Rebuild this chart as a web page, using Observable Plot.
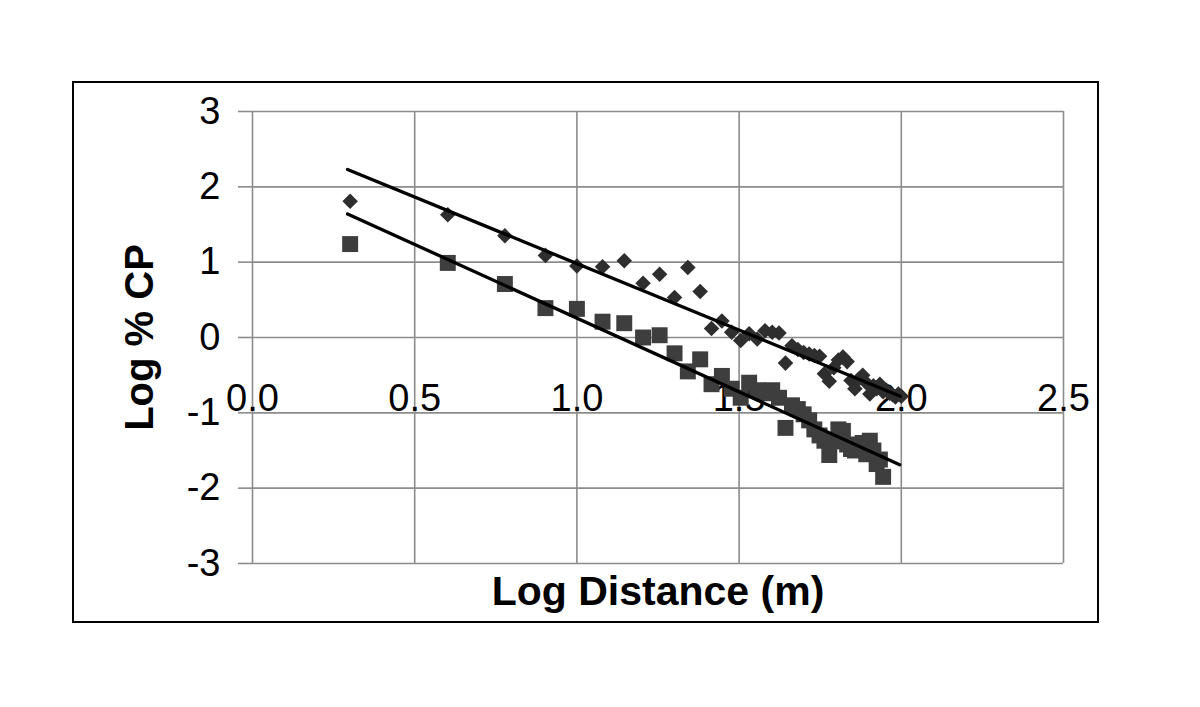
<!DOCTYPE html>
<html>
<head>
<meta charset="utf-8">
<script src="https://cdn.jsdelivr.net/npm/d3@7"></script>
<script src="https://cdn.jsdelivr.net/npm/@observablehq/plot@0.6"></script>
<style>
  html, body { margin: 0; padding: 0; background: #fff; }
  #wrap { position: relative; width: 1200px; height: 707px; overflow: hidden; }
  #frame { position: absolute; left: 72px; top: 81px; width: 1027px; height: 542px;
           border: 2px solid #000; box-sizing: border-box; pointer-events: none; }
</style>
</head>
<body>
<div id="wrap"><div id="frame"></div></div>
<script>
// ---- data ----
const xTicks = [0, 0.5, 1, 1.5, 2, 2.5];
const xTickLabels = ["0.0", "0.5", "1.0", "1.5", "2.0", "2.5"];
const yTicks = [-3, -2, -1, 0, 1, 2, 3];
const yTickLabels = ["-3", "-2", "-1", "0", "1", "2", "3"];
const xLabelRow = -1; // x tick labels sit on the -1 gridline

// series 1 (diamonds): log distance, log %CP
const diamondX = [0.301, 0.602, 0.778, 0.903, 1.000, 1.079, 1.146, 1.204, 1.255, 1.301,
  1.342, 1.380, 1.415, 1.447, 1.477, 1.505, 1.531, 1.556, 1.580, 1.602,
  1.623, 1.643, 1.663, 1.681, 1.699, 1.716, 1.732, 1.748, 1.763, 1.778,
  1.792, 1.806, 1.820, 1.833, 1.845, 1.857, 1.869, 1.881, 1.892, 1.903,
  1.914, 1.924, 1.934, 1.944, 1.954, 1.964, 1.973, 1.982, 1.991, 2.000];
const diamondY = [1.81, 1.63, 1.35, 1.09, 0.95, 0.94, 1.02, 0.72, 0.84, 0.53,
  0.93, 0.61, 0.12, 0.22, 0.07, -0.04, 0.05, -0.02, 0.09, 0.07,
  0.06, -0.34, -0.11, -0.16, -0.20, -0.22, -0.24, -0.25, -0.48, -0.58,
  -0.40, -0.30, -0.26, -0.32, -0.57, -0.68, -0.55, -0.50, -0.60, -0.75,
  -0.64, -0.68, -0.62, -0.72, -0.70, -0.74, -0.76, -0.79, -0.75, -0.78];

// series 2 (squares)
const squareX = [0.301, 0.602, 0.778, 0.903, 1.000, 1.079, 1.146, 1.204, 1.255, 1.301,
  1.342, 1.380, 1.415, 1.447, 1.477, 1.505, 1.531, 1.556, 1.580, 1.602,
  1.623, 1.643, 1.663, 1.681, 1.699, 1.716, 1.732, 1.748, 1.763, 1.778,
  1.792, 1.806, 1.820, 1.833, 1.845, 1.857, 1.869, 1.881, 1.892, 1.903,
  1.914, 1.924, 1.934, 1.944];
const squareY = [1.24, 0.99, 0.71, 0.39, 0.38, 0.21, 0.19, 0.00, 0.03, -0.21,
  -0.45, -0.29, -0.62, -0.51, -0.68, -0.80, -0.60, -0.70, -0.74, -0.70,
  -0.80, -1.20, -0.90, -0.95, -1.02, -1.10, -1.22, -1.30, -1.37, -1.56,
  -1.38, -1.22, -1.24, -1.42, -1.48, -1.50, -1.46, -1.40, -1.55, -1.37,
  -1.50, -1.68, -1.62, -1.85];

// trend lines (endpoints)
const trend1X = [0.293, 1.997];
const trend1Y = [2.23, -0.78];
const trend2X = [0.293, 1.995];
const trend2Y = [1.64, -1.69];

const diamonds = diamondX.map((x, i) => ({x, y: diamondY[i]}));
const squares = squareX.map((x, i) => ({x, y: squareY[i]}));
const trend1 = trend1X.map((x, i) => ({x, y: trend1Y[i]}));
const trend2 = trend2X.map((x, i) => ({x, y: trend2Y[i]}));

const grid = "#8c8c8c";
const font = "'Liberation Sans', Arial, sans-serif";

const chart = Plot.plot({
  width: 1200,
  height: 707,
  marginLeft: 252,
  marginRight: 137,
  marginTop: 111,
  marginBottom: 144,
  style: {fontFamily: font, background: "transparent", color: "#000"},
  x: {domain: [0, 2.5], axis: null},
  y: {domain: [-3, 3], axis: null},
  marks: [
    Plot.ruleY(yTicks, {stroke: grid, strokeWidth: 1.6}),
    Plot.ruleX(xTicks, {stroke: grid, strokeWidth: 1.6}),
    Plot.axisY(yTicks, {
      tickSize: 14, tickPadding: 18, fontSize: 38,
      stroke: grid, strokeWidth: 1.6, fill: "#000",
      tickFormat: (d) => yTickLabels[yTicks.indexOf(d)], label: null
    }),
    Plot.text(xTicks, {
      x: (d) => d, y: () => xLabelRow,
      text: (d, i) => xTickLabels[i],
      fontSize: 38, lineAnchor: "bottom", dy: -2, fill: "#000"
    }),
    Plot.text(["Log % CP"], {
      text: (d) => d, frameAnchor: "left", rotate: -90, dx: -112,
      textAnchor: "middle", lineAnchor: "middle",
      fontSize: 40, fontWeight: "bold", fill: "#000"
    }),
    Plot.text(["Log Distance (m)"], {
      text: (d) => d, frameAnchor: "bottom", dy: 28,
      textAnchor: "middle", lineAnchor: "middle",
      fontSize: 41, fontWeight: "bold", fill: "#000"
    }),
    Plot.dot(squares, {x: "x", y: "y", symbol: "square", r: 9, fill: "#3e3e3e", stroke: "none"}),
    Plot.dot(diamonds, {x: "x", y: "y", symbol: "diamond2", r: 7, fill: "#2e2e2e", stroke: "none"}),
    Plot.line(trend1, {x: "x", y: "y", stroke: "#000", strokeWidth: 3.3}),
    Plot.line(trend2, {x: "x", y: "y", stroke: "#000", strokeWidth: 3.3})
  ]
});
chart.style.position = "absolute";
chart.style.left = "0px";
chart.style.top = "0px";
document.getElementById("wrap").insertBefore(chart, document.getElementById("frame"));
</script>
</body>
</html>
